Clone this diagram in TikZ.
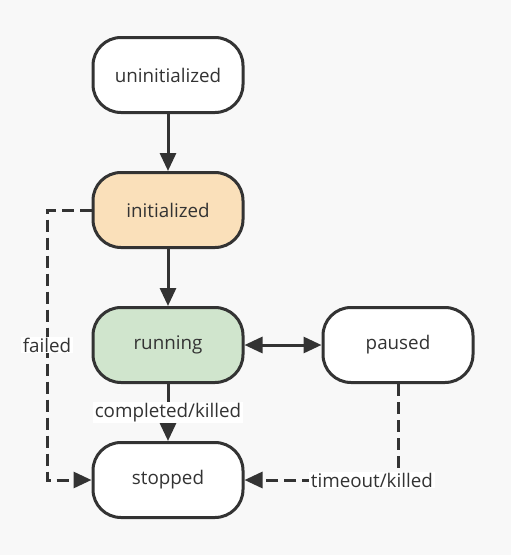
\documentclass[tikz,border=0pt]{standalone}
\usepackage{fontspec}
\setmainfont{Open Sans}
\usetikzlibrary{arrows.meta}
\definecolor{bgc}{HTML}{F8F8F8}
\definecolor{ink}{HTML}{333333}
\definecolor{orangefill}{HTML}{FAE0BA}
\definecolor{greenfill}{HTML}{D0E5CD}
\tikzset{
  state/.style={draw=ink, line width=3pt, fill=white, rounded corners=28pt,
    minimum width=150pt, minimum height=75pt, inner sep=0pt,
    text=ink, font=\fontsize{18.8}{22}\selectfont},
  conn/.style={draw=ink, line width=3pt, -{Triangle[length=18pt,width=16pt]}},
  dconn/.style={conn, dash pattern=on 12pt off 6pt},
  lbl/.style={fill=white, text=ink, inner xsep=2pt, inner ysep=1pt,
    font=\fontsize{18.8}{22}\selectfont},
}
\begin{document}
\begin{tikzpicture}[x=1pt,y=-1pt]
  \fill[bgc] (0,0) rectangle (511,555);
  \useasboundingbox (0,0) rectangle (511,555);
  \node[state] (uninit) at (168,75) {uninitialized};
  \node[state, fill=orangefill] (init) at (168,210) {initialized};
  \node[state, fill=greenfill] (run) at (168,345) {running};
  \node[state] (paused) at (398,345) {paused};
  \node[state] (stopped) at (168,480) {stopped};
  \coordinate (f1) at (47,210);
  \coordinate (f2) at (47,480);
  \coordinate (t1) at (398,480);
  \draw[conn] (uninit.south) -- (init.north);
  \draw[conn] (init.south) -- (run.north);
  \draw[conn, {Triangle[length=18pt,width=16pt]}-{Triangle[length=18pt,width=16pt]}] (run.east) -- (paused.west);
  \draw[conn] (run.south) -- node[lbl, pos=0.5] {completed/killed} (stopped.north);
  \draw[dconn] (init.west) -- (f1) -- node[lbl] {failed} (f2) -- (stopped.west);
  \draw[dconn] (paused.south) -- (t1) -- node[lbl, pos=0.17] {timeout/killed} (stopped.east);
\end{tikzpicture}
\end{document}
